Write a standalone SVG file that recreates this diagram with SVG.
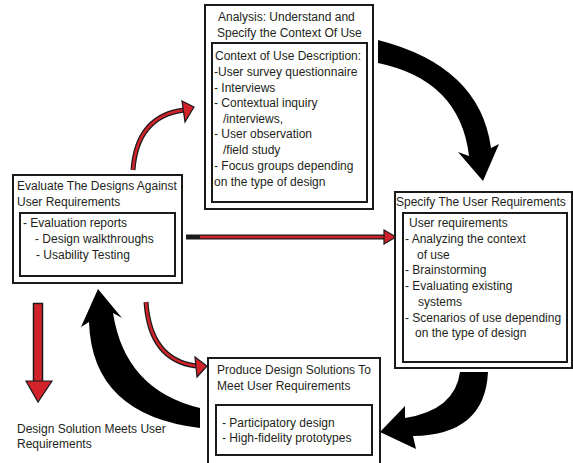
<svg xmlns="http://www.w3.org/2000/svg" width="573" height="463" viewBox="0 0 573 463">
<style>
text{font-family:"Liberation Sans",Arial,sans-serif;font-size:12px;fill:#231f20}
.box{fill:#fff;stroke:#1a1a1a;stroke-width:2}
.in{fill:none;stroke:#1a1a1a;stroke-width:2}
.big{fill:#000;stroke:none}
.rs-o{fill:none;stroke:#1a1a1a;stroke-width:5}
.rs-i{fill:none;stroke:#d2232a;stroke-width:2.6}
.rh{fill:#d2232a;stroke:#1a1a1a;stroke-width:1.2;stroke-linejoin:miter}
</style>
<rect width="573" height="463" fill="#fff"/>
<g id="connectors">
  <!-- black big arrows -->
  <path class="big" d="M378,40 Q480,66 491,148 L499,144 L483,181 L458,152 L469,156 Q460,80 378,63 Z"/>
  <path class="big" d="M488,372 Q485,435 413,436 L416,449 L380,432 L405,406 L405,418 Q455,410 460,372 Z"/>
  <path class="big" d="M200,428 Q92,415 89,322 L81,327 L98,289 L122,318 L113,313 Q125,390 200,408 Z"/>
  <!-- red arrows -->
  <path class="rs-o" d="M133,170 Q137,116 184,110"/>
  <path class="rs-i" d="M133,170 Q137,116 184,110"/>
  <polygon class="rh" points="182,101 194,107 185,122"/>
  <path class="rs-o" d="M186,237 L385,237"/>
  <path class="rs-i" d="M200,237 L385,237"/>
  <polygon class="rh" points="384,230 396,237 384,244"/>
  <path class="rs-o" d="M146,302 Q150,360 196,366"/>
  <path class="rs-i" d="M146,302 Q150,360 196,366"/>
  <polygon class="rh" points="195,357 207,366 197,377"/>
  <rect x="33.5" y="303.5" width="9" height="79" fill="#d2232a" stroke="#1a1a1a" stroke-width="1.5"/>
  <polygon class="rh" points="26,381 52,381 38,402" stroke-width="1.5"/>
</g>
<g id="analysis">
  <rect class="box" x="205" y="5" width="168" height="204"/>
  <rect class="in" x="212" y="43" width="155" height="159"/>
  <text x="218" y="21">Analysis: Understand and</text>
  <text x="217" y="37">Specify the Context Of Use</text>
  <text x="215" y="60">Context of Use Description:</text>
  <text x="214" y="76">-User survey questionnaire</text>
  <text x="214" y="92">- Interviews</text>
  <text x="214" y="107">- Contextual inquiry</text>
  <text x="223" y="123">/interviews,</text>
  <text x="214" y="138">- User observation</text>
  <text x="223" y="154">/field study</text>
  <text x="214" y="170">- Focus groups depending</text>
  <text x="214" y="186">on the type of design</text>
</g>
<g id="specify">
  <rect class="box" x="395" y="192" width="177" height="176"/>
  <rect class="in" x="403" y="213" width="164" height="149"/>
  <text x="396" y="206">Specify The User Requirements</text>
  <text x="409" y="227">User requirements</text>
  <text x="405" y="243">- Analyzing the context</text>
  <text x="417" y="259">of use</text>
  <text x="405" y="274">- Brainstorming</text>
  <text x="405" y="290">- Evaluating existing</text>
  <text x="418" y="306">systems</text>
  <text x="405" y="322">- Scenarios of use depending</text>
  <text x="415" y="337">on the type of design</text>
</g>
<g id="evaluate">
  <rect class="box" x="13" y="175" width="169" height="108"/>
  <rect class="in" x="20" y="213" width="155" height="63"/>
  <text x="17" y="190">Evaluate The Designs Against</text>
  <text x="17" y="206">User Requirements</text>
  <text x="23" y="227">- Evaluation reports</text>
  <text x="35" y="243">-  Design walkthroughs</text>
  <text x="36" y="259">- Usability Testing</text>
</g>
<g id="produce">
  <rect class="box" x="208" y="358" width="172" height="110"/>
  <rect class="in" x="216" y="405" width="156" height="50"/>
  <text x="217" y="374">Produce Design Solutions To</text>
  <text x="217" y="390">Meet User Requirements</text>
  <text x="222" y="427">- Participatory design</text>
  <text x="222" y="442">- High-fidelity prototypes</text>
</g>
<g id="outcome">
  <text x="17" y="433">Design Solution Meets User</text>
  <text x="17" y="448">Requirements</text>
</g>
</svg>
